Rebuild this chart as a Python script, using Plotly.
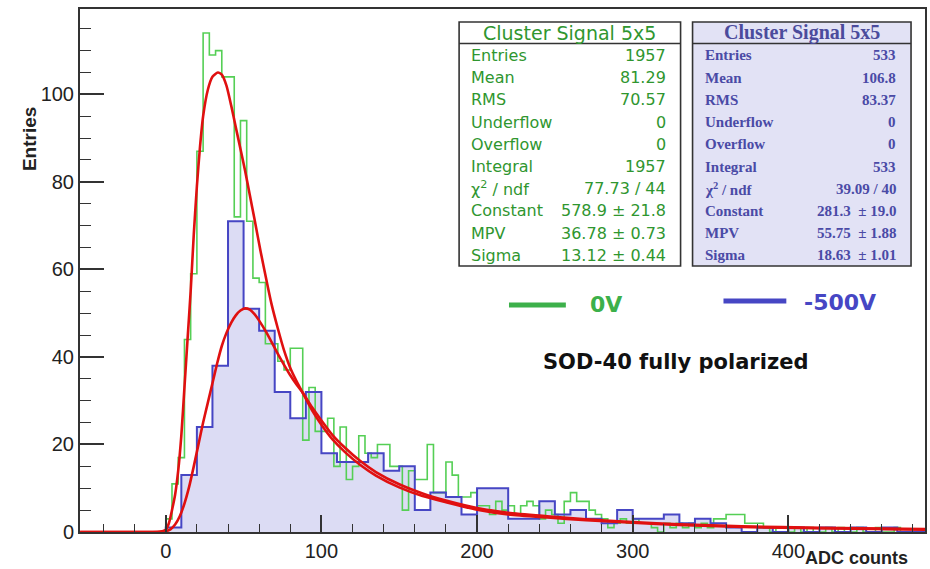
import plotly.graph_objects as go

# ---------------- data ----------------
green_bin_width = 4          # 0V histogram, bins start at 0
green_counts = [3, 11, 17, 44, 59, 87, 114, 109, 110, 104,
                104, 72, 94, 71, 58, 57, 43, 43, 39, 37,
                42, 42, 21, 33, 23, 23, 26, 15, 24, 12,
                15, 22, 18, 17, 20, 20, 15, 15, 5, 14,
                12, 12, 20, 9, 9, 16, 13, 8, 8, 9,
                6, 6, 4, 7, 5, 6, 4, 6, 7, 6,
                3, 5, 4, 2, 7, 9, 7, 7, 5, 4,
                3, 1, 2, 3, 2, 3, 2, 2, 1, 0,
                2, 1, 2, 1, 2, 1, 2, 1, 3, 3,
                4, 4, 4, 2, 2, 2, 1, 0, 1, 1,
                0, 1, 0, 1, 0, 0, 1, 0, 1, 0,
                0, 1, 0, 0, 1, 0, 0, 1, 0, 0, 0, 0]

blue_bin_width = 10          # -500V histogram, bins start at 0
blue_counts = [1, 13, 24, 38, 71, 51, 46, 32, 26, 32,
               18, 16, 16, 18, 14, 15, 5, 9, 8, 4,
               10, 10, 3, 3, 7, 4, 5, 3, 2, 5,
               3, 3, 4, 2, 3, 2, 1, 0, 1, 0,
               1, 0, 1, 0, 1, 0, 1, 0, 0]

# Landau fit curves
fit0_x = [-55, -10, -4, 0, 2, 4, 6, 8, 10, 12, 14, 16, 18, 20, 22, 24, 27, 30, 33.5, 36,
          39, 42, 45, 48, 51, 54, 57, 61, 65, 68, 72, 76, 80, 84, 88, 94, 100, 107, 115,
          125, 135, 150, 165, 180, 200, 220, 245, 270, 300, 330, 370, 420, 488]
fit0_y = [0, 0, 0.05, 0.5, 2, 5, 8.5, 14, 22, 33, 44, 55, 68, 79, 88, 95, 101, 104, 105, 104.5,
          102, 97.5, 92.5, 87.5, 82.5, 77, 71.5, 64, 57, 52, 46.5, 41.5, 37.5, 34.5, 31.8, 27.8,
          24.5, 21.2, 18.3, 15.3, 12.9, 10.2, 8.2, 6.8, 5.1, 4.0, 3.3, 2.7, 2.1, 1.6, 1.15, 0.85, 0.55]

fit500_x = [-55, -10, -3, 0, 3, 6, 9, 12, 15, 18, 21, 24, 27, 30, 33, 36, 39, 42, 45, 48,
            51, 54, 57, 60, 64, 68, 72, 76, 80, 84, 88, 94, 100, 107, 115, 125, 135, 150,
            165, 180, 200, 220, 245, 270, 300, 330, 370, 420, 488]
fit500_y = [0, 0, 0.02, 0.15, 0.6, 1.7, 3.6, 6.5, 10.3, 15, 20, 25, 29.5, 34, 38.5, 42.5, 45.5,
            47.8, 49.5, 50.6, 51.1, 50.8, 49.8, 48.3, 46, 43.4, 40.7, 38.2, 35.8, 33.7, 31.8,
            28.5, 25.5, 22.2, 19.3, 16.2, 13.7, 10.9, 8.8, 7.2, 5.5, 4.4, 3.6, 2.9, 2.3, 1.75,
            1.3, 0.95, 0.65]

x_ticks = [0, 100, 200, 300, 400]
y_ticks = [0, 20, 40, 60, 80, 100]

stat_labels = ["Entries", "Mean", "RMS", "Underflow", "Overflow", "Integral",
               "χ<sup>2</sup> / ndf", "Constant", "MPV", "Sigma"]
stats_0v = ["1957", "81.29", "70.57", "0", "0", "1957", "77.73 / 44",
            "578.9 ± 21.8", "36.78 ± 0.73", "13.12 ± 0.44"]
stats_500v = ["533", "106.8", "83.37", "0", "0", "533", "39.09 / 40",
              "281.3\u00a0\u00a0± 19.0", "55.75\u00a0\u00a0± 1.88", "18.63\u00a0\u00a0± 1.01"]
stats_title = "Cluster Signal 5x5"
legend_names = ["0V", "-500V"]

# ---------------- colours ----------------
C_GREEN_H = "#55cf55"
C_GREEN_T = "#2f962f"
C_GREEN_L = "#3cb04a"
C_BLUE_H = "#4646c4"
C_BLUE_FILL = "#dcdcf4"
C_BLUE_T = "#4a4aa6"
C_RED = "#e01010"
C_AX = "#333333"

# ---------------- geometry ----------------
W, H = 930, 569
ML, MR, MT, MB = 80, 3, 9, 37
PW, PH = W - ML - MR, H - MT - MB


def px(x):
    return (x - ML) / PW


def py(y):
    return (H - MB - y) / PH


def step_xy(counts, width):
    xs = [0] + [i * width for i in range(len(counts) + 1)]
    ys = [0] + list(counts) + [counts[-1]]
    return xs, ys


fig = go.Figure()

bx, byv = step_xy(blue_counts, blue_bin_width)
gx, gyv = step_xy(green_counts, green_bin_width)

fig.add_trace(go.Scatter(x=bx, y=byv, mode="lines", line=dict(shape="hv", width=0, color=C_BLUE_FILL),
                         fill="tozeroy", fillcolor=C_BLUE_FILL, showlegend=False, hoverinfo="skip"))
fig.add_trace(go.Scatter(x=gx, y=gyv, mode="lines", line=dict(shape="hv", width=1.6, color=C_GREEN_H),
                         name=legend_names[0], showlegend=False))
fig.add_trace(go.Scatter(x=bx, y=byv, mode="lines", line=dict(shape="hv", width=2, color=C_BLUE_H),
                         name=legend_names[1], showlegend=False))
fig.add_trace(go.Scatter(x=fit0_x, y=fit0_y, mode="lines",
                         line=dict(shape="spline", smoothing=0.6, width=2.6, color=C_RED), showlegend=False))
fig.add_trace(go.Scatter(x=fit500_x, y=fit500_y, mode="lines",
                         line=dict(shape="spline", smoothing=0.6, width=2.6, color=C_RED), showlegend=False))

tickfont = dict(family="Liberation Sans, Arial, sans-serif", size=20, color="#222222")
fig.update_layout(
    width=W, height=H, margin=dict(l=ML, r=MR, t=MT, b=MB),
    paper_bgcolor="white", plot_bgcolor="white", showlegend=False,
    xaxis=dict(range=[-55.1, 487.8], tickmode="array", tickvals=x_ticks,
               ticks="inside", ticklen=17, tickwidth=1.5, tickcolor=C_AX,
               minor=dict(tickmode="linear", tick0=0, dtick=20, ticks="inside", ticklen=8,
                          tickwidth=1.3, tickcolor=C_AX),
               showline=True, linecolor=C_AX, linewidth=2, mirror=True,
               showgrid=False, zeroline=False, tickfont=tickfont),
    yaxis=dict(range=[0, 119.5], tickmode="array", tickvals=y_ticks,
               ticks="inside", ticklen=24, tickwidth=1.5, tickcolor=C_AX,
               minor=dict(tickmode="linear", tick0=0, dtick=5, ticks="inside", ticklen=11,
                          tickwidth=1.3, tickcolor=C_AX),
               showline=True, linecolor=C_AX, linewidth=2, mirror=True,
               showgrid=False, zeroline=False, tickfont=tickfont),
)

shapes = []
ann = []

# axis titles
ann.append(dict(text="ADC counts", x=px(912), y=py(558), xref="paper", yref="paper",
                xanchor="right", yanchor="middle", showarrow=False,
                font=dict(family="Liberation Sans, Arial", size=18, color="#222222", weight="bold")))
ann.append(dict(text="Entries", x=px(29), y=py(139), xref="paper", yref="paper", textangle=-90,
                xanchor="center", yanchor="middle", showarrow=False,
                font=dict(family="Liberation Sans, Arial", size=19, color="#222222", weight="bold")))

# stats boxes
def stats_box(x0, x1, fill, tcol, titlecol, labels, values, font_family, fsize, tsize, bold):
    y0, y1, ysep = 22, 266, 43.5
    shapes.append(dict(type="rect", xref="paper", yref="paper", x0=px(x0), x1=px(x1),
                       y0=py(y1), y1=py(y0), fillcolor=fill, line=dict(color=C_AX, width=1.6), layer="above"))
    shapes.append(dict(type="line", xref="paper", yref="paper", x0=px(x0), x1=px(x1),
                       y0=py(ysep), y1=py(ysep), line=dict(color=C_AX, width=1.6), layer="above"))
    w = "bold" if bold else "normal"
    ann.append(dict(text=stats_title, x=px((x0 + x1) / 2), y=py(32.5), xref="paper", yref="paper",
                    xanchor="center", yanchor="middle", showarrow=False,
                    font=dict(family=font_family, size=tsize, color=titlecol, weight=w)))
    for i, (lab, val) in enumerate(zip(labels, values)):
        yy = py(55.5 + i * 22.2)
        ann.append(dict(text=lab, x=px(x0 + 10), y=yy, xref="paper", yref="paper",
                        xanchor="left", yanchor="middle", showarrow=False,
                        font=dict(family=font_family, size=fsize, color=tcol, weight=w)))
        ann.append(dict(text=val, x=px(x1 - 13), y=yy, xref="paper", yref="paper",
                        xanchor="right", yanchor="middle", showarrow=False,
                        font=dict(family=font_family, size=fsize, color=tcol, weight=w)))


stats_box(460, 682, "white", C_GREEN_T, C_GREEN_T, stat_labels, stats_0v,
          "DejaVu Sans, sans-serif", 16, 19, False)
stats_box(694, 913, "#e2e2f5", C_BLUE_T, "#4b4b9c", stat_labels, stats_500v,
          "Liberation Serif, serif", 15, 20, True)

# legend
shapes.append(dict(type="line", xref="paper", yref="paper", x0=px(510), x1=px(567),
                   y0=py(305), y1=py(305), line=dict(color=C_GREEN_L, width=5)))
shapes.append(dict(type="line", xref="paper", yref="paper", x0=px(725), x1=px(788),
                   y0=py(301), y1=py(301), line=dict(color=C_BLUE_H, width=5)))
ann.append(dict(text=legend_names[0], x=px(589), y=py(304), xref="paper", yref="paper",
                xanchor="left", yanchor="middle", showarrow=False,
                font=dict(family="DejaVu Sans, sans-serif", size=22, color=C_GREEN_L, weight="bold")))
ann.append(dict(text=legend_names[1], x=px(804), y=py(302), xref="paper", yref="paper",
                xanchor="left", yanchor="middle", showarrow=False,
                font=dict(family="DejaVu Sans, sans-serif", size=22, color=C_BLUE_H, weight="bold")))
ann.append(dict(text="SOD-40 fully polarized", x=px(677), y=py(362), xref="paper", yref="paper",
                xanchor="center", yanchor="middle", showarrow=False,
                font=dict(family="DejaVu Sans, sans-serif", size=21, color="#111111", weight="bold")))

fig.update_layout(shapes=shapes, annotations=ann)
fig.write_html("out.html")
